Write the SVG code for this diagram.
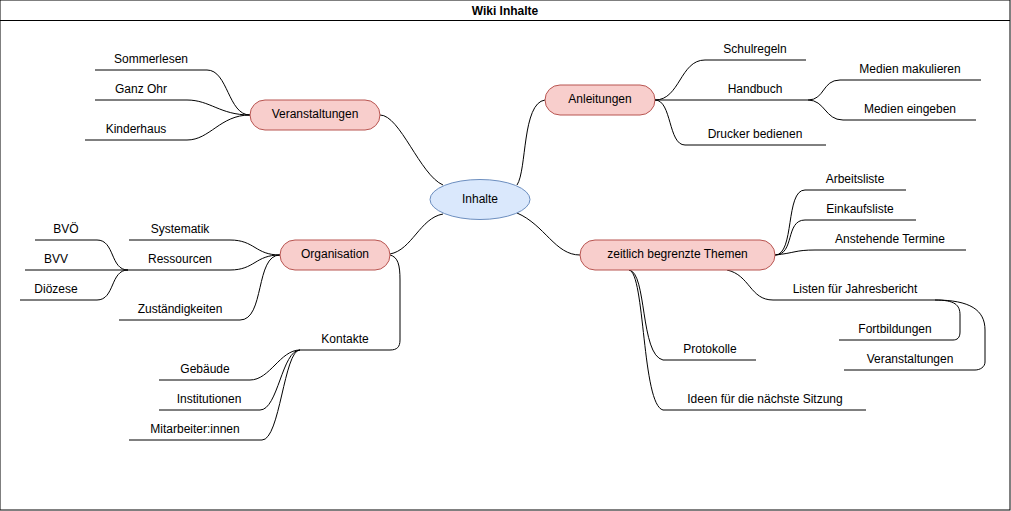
<svg xmlns="http://www.w3.org/2000/svg" width="1011" height="511" viewBox="0 0 1011 511">
<style>
text{font-family:"Liberation Sans",Arial,sans-serif;font-size:12px;fill:#000;text-anchor:middle;dominant-baseline:central}
.title{font-weight:bold}
.branch{fill:#f8cecc;stroke:#b85450;stroke-width:1}
.root{fill:#dae8fc;stroke:#6c8ebf;stroke-width:1}
.leaf{stroke:#000;stroke-width:1;fill:none}
.edge{stroke:#000;stroke-width:1;fill:none}
</style>
<g id="frame">
<rect x="0" y="0" width="1010" height="510" fill="#fff" stroke="#000"/>
<line x1="0" y1="20.5" x2="1010" y2="20.5" stroke="#000"/>
<text class="title" x="505" y="11">Wiki Inhalte</text>
</g>
<g id="connectors">
<path class="edge" d="M380,115 C400,115 420,175 443,185"/>
<path class="edge" d="M390,254 C412,250 420,218 443,214"/>
<path class="edge" d="M517,185 C527,170 522,103 545,100"/>
<path class="edge" d="M517,213 C545,225 555,255 580,255"/>
<path class="edge" d="M250,115 C228,115 228,70 207,70"/>
<path class="edge" d="M250,115 C220,115 210,100 187,100"/>
<path class="edge" d="M250,115 C220,115 210,140 187,140"/>
<path class="edge" d="M280,255 C255,255 255,240 230,240"/>
<path class="edge" d="M280,255 C255,255 255,270 230,270"/>
<path class="edge" d="M280,255 C255,255 265,320 240,320"/>
<path class="edge" d="M128,270 C110,270 115,240 97,240"/>
<path class="edge" d="M128,270 C110,270 115,300 97,300"/>
<path class="edge" d="M390,255 C398,257 400,265 400,280 L400,340 C400,347 397,350 390,350"/>
<path class="edge" d="M300,350 C280,350 270,380 250,380"/>
<path class="edge" d="M300,350 C282,350 278,410 260,410"/>
<path class="edge" d="M300,350 C284,350 280,440 262,440"/>
<path class="edge" d="M655,100 C680,100 680,60 705,60"/>
<path class="edge" d="M655,100 C672,100 668,145 685,145"/>
<path class="edge" d="M808,100 C825,100 822,80 840,80"/>
<path class="edge" d="M808,100 C825,100 825,120 843,120"/>
<path class="edge" d="M775,255 C795,255 785,190 805,190"/>
<path class="edge" d="M775,255 C795,255 785,220 805,220"/>
<path class="edge" d="M775,255 C795,253 795,250 815,250"/>
<path class="edge" d="M727,270 C750,275 750,300 773,300"/>
<path class="edge" d="M629,270 C647,272 640,355 663,360"/>
<path class="edge" d="M629,270 C645,272 642,405 663,410"/>
<path class="edge" d="M935,300 C955,300 960,305 960,315 L960,332 C960,338 957,340 953,340"/>
<path class="edge" d="M935,300 C970,300 985,310 985,330 L985,362 C985,367 980,370 975,370"/>
</g>
<g id="node-inhalte"><ellipse class="root" cx="480" cy="199.5" rx="50" ry="20"/><text x="480" y="199">Inhalte</text></g>
<g id="node-veranstaltungen"><rect class="branch" x="250" y="100" width="130" height="30" rx="15"/><text x="315" y="114">Veranstaltungen</text></g>
<g id="node-organisation"><rect class="branch" x="280" y="240" width="110" height="30" rx="15"/><text x="335" y="254">Organisation</text></g>
<g id="node-anleitungen"><rect class="branch" x="545" y="85" width="110" height="30" rx="15"/><text x="600" y="99">Anleitungen</text></g>
<g id="node-zeitlich"><rect class="branch" x="580" y="240" width="195" height="30" rx="15"/><text x="677.5" y="254">zeitlich begrenzte Themen</text></g>
<g id="leaf-sommerlesen"><line class="leaf" x1="95" y1="70" x2="207" y2="70"/><text x="151" y="59">Sommerlesen</text></g>
<g id="leaf-ganzohr"><line class="leaf" x1="95" y1="100" x2="187" y2="100"/><text x="141" y="89">Ganz Ohr</text></g>
<g id="leaf-kinderhaus"><line class="leaf" x1="85" y1="140" x2="187" y2="140"/><text x="136" y="129">Kinderhaus</text></g>
<g id="leaf-systematik"><line class="leaf" x1="129" y1="240" x2="230" y2="240"/><text x="180" y="229">Systematik</text></g>
<g id="leaf-ressourcen"><line class="leaf" x1="128" y1="270" x2="230" y2="270"/><text x="180" y="259">Ressourcen</text></g>
<g id="leaf-zustaendigkeiten"><line class="leaf" x1="119" y1="320" x2="240" y2="320"/><text x="180" y="309">Zuständigkeiten</text></g>
<g id="leaf-bvoe"><line class="leaf" x1="35" y1="240" x2="97" y2="240"/><text x="66" y="229">BVÖ</text></g>
<g id="leaf-bvv"><line class="leaf" x1="25" y1="270" x2="128" y2="270"/><text x="56" y="259">BVV</text></g>
<g id="leaf-dioezese"><line class="leaf" x1="20" y1="300" x2="97" y2="300"/><text x="56" y="289">Diözese</text></g>
<g id="leaf-kontakte"><line class="leaf" x1="300" y1="350" x2="390" y2="350"/><text x="345" y="339">Kontakte</text></g>
<g id="leaf-gebaeude"><line class="leaf" x1="159" y1="380" x2="250" y2="380"/><text x="205" y="369">Gebäude</text></g>
<g id="leaf-institutionen"><line class="leaf" x1="159" y1="410" x2="260" y2="410"/><text x="209" y="399">Institutionen</text></g>
<g id="leaf-mitarbeiter"><line class="leaf" x1="129" y1="440" x2="262" y2="440"/><text x="195" y="429">Mitarbeiter:innen</text></g>
<g id="leaf-schulregeln"><line class="leaf" x1="705" y1="60" x2="806" y2="60"/><text x="755" y="49">Schulregeln</text></g>
<g id="leaf-handbuch"><line class="leaf" x1="655" y1="100" x2="808" y2="100"/><text x="755" y="89">Handbuch</text></g>
<g id="leaf-drucker"><line class="leaf" x1="685" y1="145" x2="826" y2="145"/><text x="755" y="134">Drucker bedienen</text></g>
<g id="leaf-makulieren"><line class="leaf" x1="840" y1="80" x2="981" y2="80"/><text x="910" y="69">Medien makulieren</text></g>
<g id="leaf-eingeben"><line class="leaf" x1="843" y1="120" x2="976" y2="120"/><text x="910" y="109">Medien eingeben</text></g>
<g id="leaf-arbeitsliste"><line class="leaf" x1="805" y1="190" x2="906" y2="190"/><text x="855" y="179">Arbeitsliste</text></g>
<g id="leaf-einkaufsliste"><line class="leaf" x1="805" y1="220" x2="916" y2="220"/><text x="860" y="209">Einkaufsliste</text></g>
<g id="leaf-termine"><line class="leaf" x1="815" y1="250" x2="966" y2="250"/><text x="890" y="239">Anstehende Termine</text></g>
<g id="leaf-jahresbericht"><line class="leaf" x1="773" y1="300" x2="935" y2="300"/><text x="855" y="289">Listen für Jahresbericht</text></g>
<g id="leaf-fortbildungen"><line class="leaf" x1="839" y1="340" x2="953" y2="340"/><text x="895" y="329">Fortbildungen</text></g>
<g id="leaf-veranstaltungen2"><line class="leaf" x1="844" y1="370" x2="975" y2="370"/><text x="910" y="359">Veranstaltungen</text></g>
<g id="leaf-protokolle"><line class="leaf" x1="663" y1="360" x2="756" y2="360"/><text x="710" y="349">Protokolle</text></g>
<g id="leaf-ideen"><line class="leaf" x1="663" y1="410" x2="866" y2="410"/><text x="765" y="399">Ideen für die nächste Sitzung</text></g>
</svg>
